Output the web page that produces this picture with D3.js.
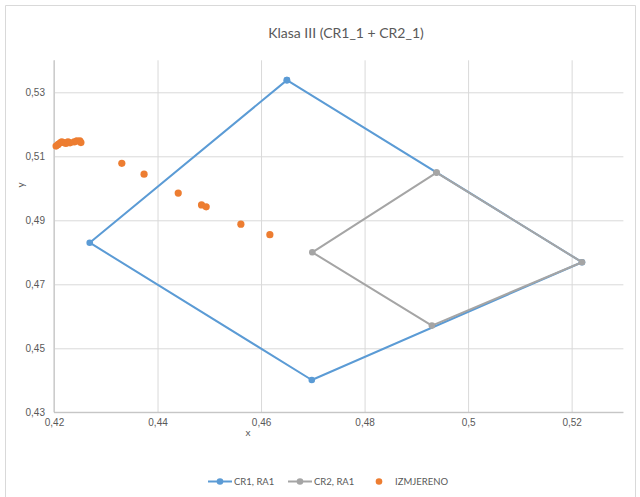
<!DOCTYPE html>
<html><head><meta charset="utf-8">
<script src="https://cdn.jsdelivr.net/npm/d3@7"></script>
<style>body{margin:0;background:#fff;}svg{display:block;font-family:Lato,"Open Sans",sans-serif;}</style>
</head><body>
<svg id="c" width="640" height="497"></svg>
<script>
const title = "Klasa III (CR1_1 + CR2_1)";
const xTicks = [0.42, 0.44, 0.46, 0.48, 0.50, 0.52];
const yTicks = [0.43, 0.45, 0.47, 0.49, 0.51, 0.53];
const cr1X = [0.4650, 0.5220, 0.4698, 0.4269, 0.4650];
const cr1Y = [0.5338, 0.4769, 0.4401, 0.4830, 0.5338];
const cr2X = [0.4939, 0.5220, 0.4930, 0.4699, 0.4939];
const cr2Y = [0.5049, 0.4769, 0.4571, 0.4800, 0.5049];
const izmX = [0.4204, 0.4208, 0.4212, 0.4215, 0.4219, 0.4223, 0.4227, 0.4231, 0.4239, 0.4244, 0.4250, 0.4252,
              0.4331, 0.4374, 0.4440, 0.4485, 0.4494, 0.4561, 0.4617];
const izmY = [0.5132, 0.5137, 0.5142, 0.5145, 0.5143, 0.5140, 0.5145, 0.5142, 0.5145, 0.5148, 0.5148, 0.5143,
              0.5078, 0.5044, 0.4985, 0.4948, 0.4942, 0.4888, 0.4855];
const seriesNames = ["CR1, RA1", "CR2, RA1", "IZMJERENO"];
const colors = ["#5B9BD5", "#A5A5A5", "#ED7D31"];

const svg = d3.select("#c");
const fmt = d => d3.format("")(+d.toFixed(2)).replace(".", ",");
const x = d3.scaleLinear().domain([0.42, 0.53]).range([54, 623.4]);
const y = d3.scaleLinear().domain([0.43, 0.54]).range([412.3, 60.3]);

// chart frame
svg.append("path").attr("d", "M5.5,500V5.5H635.5V500").attr("fill", "none").attr("stroke", "#d9d9d9");

// title
svg.append("text").attr("x", 346).attr("y", 38).attr("text-anchor", "middle")
  .attr("font-size", 14).attr("fill", "#595959").text(title);

// gridlines
const gx = svg.append("g").attr("transform", "translate(0,412.3)")
  .call(d3.axisBottom(x).tickValues(xTicks).tickSize(-352).tickFormat(fmt));
gx.select(".domain").remove();
gx.selectAll(".tick line").attr("stroke", "#d9d9d9");
gx.selectAll(".tick text").attr("fill", "#595959").attr("font-size", 10).attr("dy", "0.71em").attr("y", 7);

const gy = svg.append("g").attr("transform", "translate(54,0)")
  .call(d3.axisLeft(y).tickValues(yTicks).tickSize(-569.4).tickFormat(fmt));
gy.select(".domain").remove();
gy.selectAll(".tick line").attr("stroke", "#d9d9d9");
gy.selectAll(".tick text").attr("fill", "#595959").attr("font-size", 10).attr("x", -9);

// axis lines
svg.append("line").attr("x1", 54).attr("x2", 54).attr("y1", 60.3).attr("y2", 412.3).attr("stroke", "#bfbfbf");
svg.append("line").attr("x1", 54).attr("x2", 623.4).attr("y1", 412.3).attr("y2", 412.3).attr("stroke", "#bfbfbf");

// axis titles
svg.append("text").attr("x", 248).attr("y", 436).attr("text-anchor", "middle")
  .attr("font-size", 10).attr("fill", "#595959").text("x");
svg.append("text").attr("transform", "translate(24,185) rotate(-90)").attr("text-anchor", "middle")
  .attr("font-size", 10).attr("fill", "#595959").text("y");

const line = d3.line().x(d => x(d[0])).y(d => y(d[1]));
function drawLineSeries(xs, ys, color) {
  const pts = xs.map((v, i) => [v, ys[i]]);
  svg.append("path").datum(pts).attr("d", line).attr("fill", "none")
    .attr("stroke", color).attr("stroke-width", 2).attr("stroke-linejoin", "round");
  svg.append("g").selectAll("circle").data(pts).join("circle")
    .attr("cx", d => x(d[0])).attr("cy", d => y(d[1])).attr("r", 3.3).attr("fill", color);
}
drawLineSeries(cr1X, cr1Y, colors[0]);
drawLineSeries(cr2X, cr2Y, colors[1]);
svg.append("g").selectAll("circle").data(izmX.map((v, i) => [v, izmY[i]])).join("circle")
  .attr("cx", d => x(d[0])).attr("cy", d => y(d[1])).attr("r", 3.6).attr("fill", colors[2]);

// legend
const lg = svg.append("g").attr("font-size", 9.5).attr("fill", "#595959");
const lx = [208, 288, 379];
[0, 1].forEach(i => {
  lg.append("line").attr("x1", lx[i]).attr("x2", lx[i] + 24).attr("y1", 481.5).attr("y2", 481.5)
    .attr("stroke", colors[i]).attr("stroke-width", 2);
  lg.append("circle").attr("cx", lx[i] + 12).attr("cy", 481.5).attr("r", 3.3).attr("fill", colors[i]);
  lg.append("text").attr("x", lx[i] + 26).attr("y", 481.5).attr("dy", "0.35em").text(seriesNames[i]);
});
lg.append("circle").attr("cx", lx[2]).attr("cy", 481.5).attr("r", 3.3).attr("fill", colors[2]);
lg.append("text").attr("x", 395).attr("y", 481.5).attr("dy", "0.35em").text(seriesNames[2]);
</script>
</body></html>
